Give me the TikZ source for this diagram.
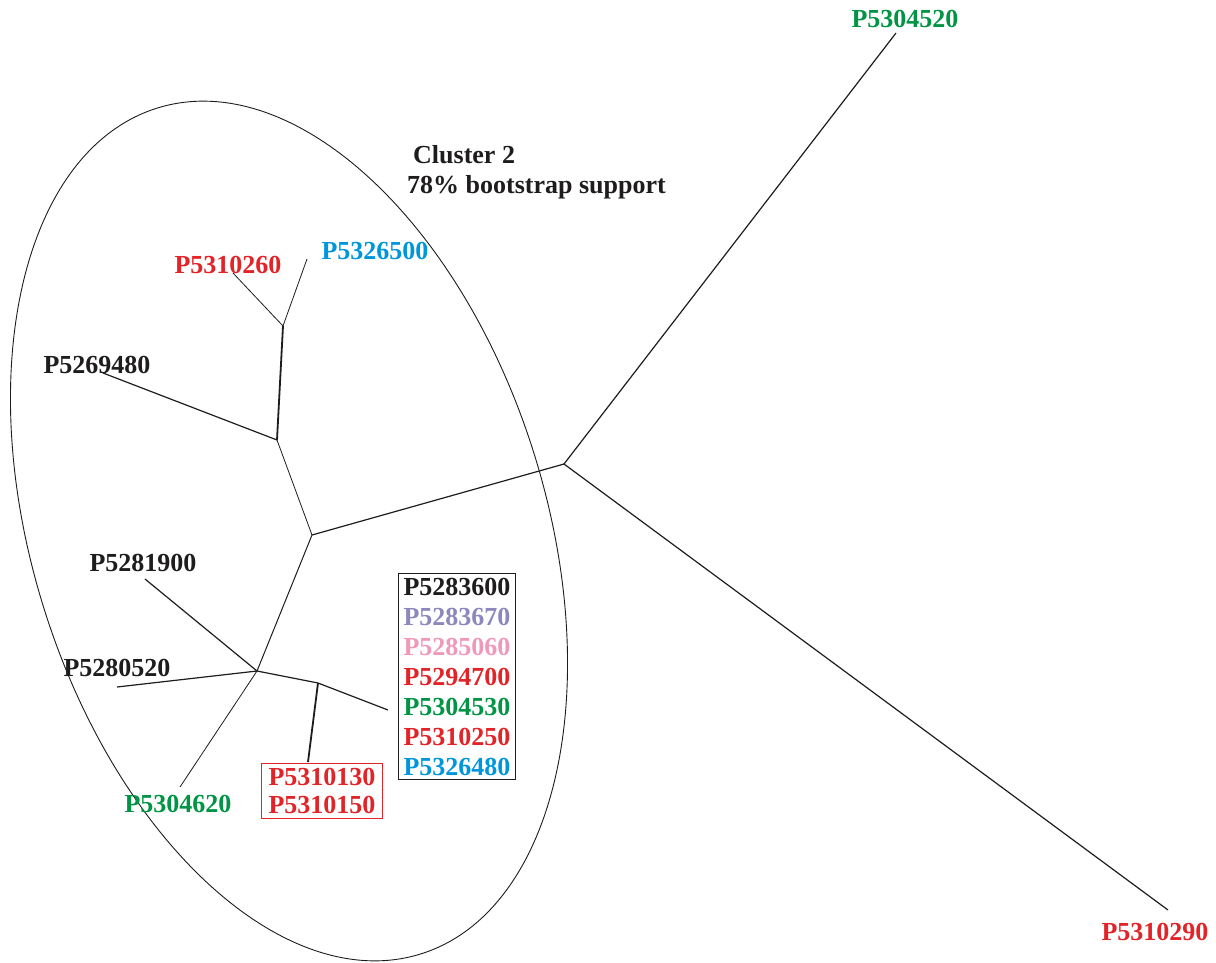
\documentclass[tikz,border=0pt]{standalone}
\usepackage{fontspec}
\setmainfont{Liberation Serif}
\usepackage{tikz}
\usetikzlibrary{matrix,positioning}
\usepackage{xcolor}
\definecolor{tred}{RGB}{226,36,40}
\definecolor{tgreen}{RGB}{0,148,68}
\definecolor{tblue}{RGB}{0,150,220}
\definecolor{tpurple}{RGB}{140,136,190}
\definecolor{tpink}{RGB}{240,152,186}
\definecolor{tgrey}{RGB}{30,28,28}

\begin{document}
\begin{tikzpicture}[x=1pt,y=-1pt,
		br/.style={line width=1.2pt,tgrey},
		thinbr/.style={line width=0.8pt,tgrey},
		thickbr/.style={line width=1.8pt,tgrey},
		lbl/.style={font=\fontsize{26}{30}\selectfont\bfseries,inner sep=0pt}]
		\useasboundingbox (0,0) rectangle (1216,962);
		% cluster outline
		\draw [line width=0.9pt,tgrey,rotate around={17.3:(289,531)}] (289,531) ellipse [x radius=257,y radius=443];
		\node [lbl,anchor=base west,text=tgrey] (cl) at (413,163) {Cluster 2};
		\node [lbl,anchor=base west,text=tgrey] (bs) at (407,193) {78\% bootstrap support};
		% inner nodes of the tree
		\coordinate (root) at (564,464);
		\coordinate (nA) at (312,535);
		\coordinate (nB) at (277,440);
		\coordinate (nC) at (283,326);
		\coordinate (nD) at (257,671);
		\coordinate (nE) at (318,683);
		% tips
		\coordinate (t20) at (896,33);
		\coordinate (t90) at (1168,910);
		\coordinate (t60) at (233,273);
		\coordinate (t00) at (307,259);
		\coordinate (t80) at (103,373);
		\coordinate (t19) at (145,579);
		\coordinate (t52) at (117,687);
		\coordinate (t62) at (180,787);
		\coordinate (tbx) at (388,710);
		\coordinate (trb) at (308,762);
		% labels
		\node [lbl,text=tgreen] (l20) at (905,19) {P5304520};
		\node [lbl,text=tred] (l90) at (1155,932) {P5310290};
		\node [lbl,text=tred] (l60) at (228,265) {P5310260};
		\node [lbl,text=tblue] (l00) at (375,251) {P5326500};
		\node [lbl,text=tgrey] (l80) at (97,365) {P5269480};
		\node [lbl,text=tgrey] (l19) at (143,563) {P5281900};
		\node [lbl,text=tgrey] (l52) at (117,668) {P5280520};
		\node [lbl,text=tgreen] (l62) at (178,804) {P5304620};
		\matrix (bx) [matrix of nodes,draw=tgrey,line width=0.9pt,inner xsep=5pt,inner ysep=4pt,row sep=12pt,
			nodes={lbl,text height=18pt,text depth=0pt}] at (457,676)
		{
		|[text=tgrey]| P5283600\\
		|[text=tpurple]| P5283670\\
		|[text=tpink]| P5285060\\
		|[text=tred]| P5294700\\
		|[text=tgreen]| P5304530\\
		|[text=tred]| P5310250\\
		|[text=tblue]| P5326480\\
		};
		\matrix (rb) [matrix of nodes,draw=tred,line width=0.9pt,inner xsep=7pt,inner ysep=5pt,row sep=11pt,
			nodes={lbl,text=tred,text height=17pt,text depth=0pt}] at (322,791)
		{
		P5310130\\
		P5310150\\
		};
		% branches
		\draw [br] (t20) -- (root) -- (t90);
		\draw [br] (root) -- (nA);
		\draw [thinbr] (nA) -- (nB);
		\draw [thickbr] (nB) -- (nC);
		\draw [thinbr] (t60) -- (nC) -- (t00);
		\draw [br] (nB) -- (t80);
		\draw [line width=1pt,tgrey] (nA) -- (nD);
		\draw [br] (nD) -- (t19);
		\draw [br] (nD) -- (t52);
		\draw [thinbr] (nD) -- (t62);
		\draw [br] (nD) -- (nE) -- (tbx);
		\draw [thickbr] (nE) -- (trb);
	\end{tikzpicture}
\end{document}
